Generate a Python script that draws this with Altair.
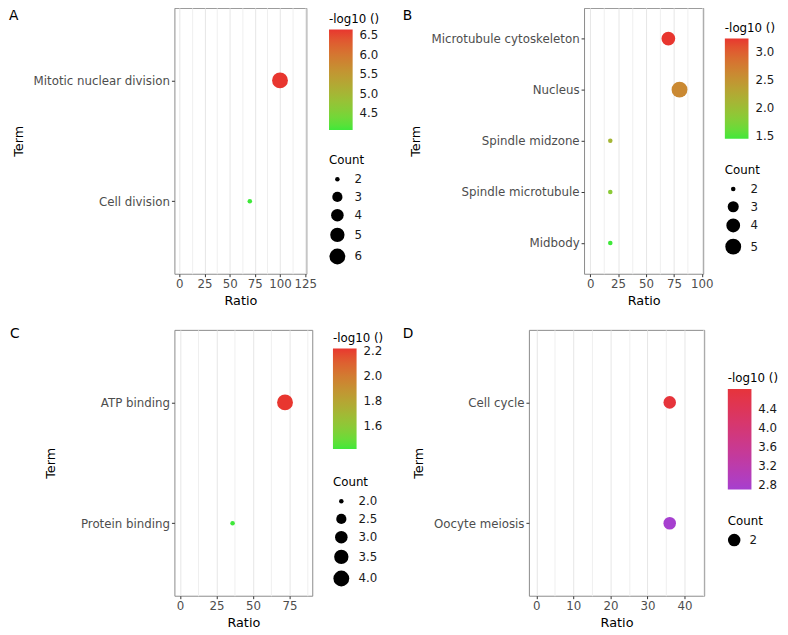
import math
import altair as alt
import pandas as pd

FONT = "DejaVu Sans"

# ---------------- data ----------------
panel_letters = ["A", "B", "C", "D"]

a_term = ["Mitotic nuclear division", "Cell division"]
a_ratio = [100, 70]
a_count = [6, 2]
a_logp = [6.65, 4.07]

b_term = ["Microtubule cytoskeleton", "Nucleus", "Spindle midzone", "Spindle microtubule", "Midbody"]
b_ratio = [70, 80, 18, 18, 18]
b_count = [4, 5, 2, 2, 2]
b_logp = [3.25, 2.62, 2.1, 1.85, 1.45]

c_term = ["ATP binding", "Protein binding"]
c_ratio = [72, 36]
c_count = [4, 2]
c_logp = [2.216, 1.42]

d_term = ["Cell cycle", "Oocyte meiosis"]
d_ratio = [36, 36]
d_count = [2, 2]
d_logp = [4.81, 2.72]

# legend labels
a_color_labels = [4.5, 5.0, 5.5, 6.0, 6.5]
b_color_labels = [1.5, 2.0, 2.5, 3.0]
c_color_labels = [1.6, 1.8, 2.0, 2.2]
d_color_labels = [2.8, 3.2, 3.6, 4.0, 4.4]
a_count_labels = [2, 3, 4, 5, 6]
b_count_labels = [2, 3, 4, 5]
c_count_labels = [2.0, 2.5, 3.0, 3.5, 4.0]
d_count_labels = [2]

GREEN_RED = ["#3fe83a", "#e8362f"]
PURPLE_RED = ["#a63fcf", "#e6343b"]


def size_range(values, vmin, vmax):
    out = []
    for v in values:
        t = 0.5 if vmax == vmin else (v - vmin) / (vmax - vmin)
        d = 2.3 * (2 + 5 * math.sqrt(t))
        out.append(d * d)
    return out


def panel(terms, ratio, count, logp, xdom, major, minor, width,
          crange, clabels, slabels, letter, ldx, ldy,
          cx, cy, sx, sy, term_pad=8):
    df = pd.DataFrame({"Term": terms, "Ratio": ratio, "Count": count, "logp": logp})
    vals = []
    v = 0.0
    while v <= xdom[1] + 1e-9:
        vals.append(v)
        v += minor
    major_test = f"abs(datum.value % {major}) < 1e-6"
    cmin, cmax = min(count), max(count)
    if cmin == cmax:
        sdom = [cmin - 1, cmin + 1]
        srng = size_range([cmin], cmin, cmax) * 2
    else:
        sdom = slabels
        srng = size_range(slabels, cmin, cmax)
    points = alt.Chart(df).mark_circle(opacity=1).encode(
        x=alt.X("Ratio:Q",
                scale=alt.Scale(domain=xdom, nice=False, zero=False),
                axis=alt.Axis(title="Ratio", values=vals,
                              labelExpr=f"{major_test} ? datum.label : ''",
                              tickOpacity={"condition": {"test": major_test, "value": 1}, "value": 0},
                              gridColor={"condition": {"test": major_test, "value": "#e6e6e6"}, "value": "#efefef"},
                              labelFlush=False, titlePadding=5)),
        y=alt.Y("Term:N", sort=terms,
                scale=alt.Scale(type="point", padding=0.6),
                axis=alt.Axis(title="Term", titlePadding=term_pad)),
        color=alt.Color("logp:Q",
                        scale=alt.Scale(domain=[min(logp), max(logp)], range=crange, interpolate="lab"),
                        legend=alt.Legend(title="-log10 ()", orient="none", direction="vertical",
                                          legendX=cx, legendY=cy, values=clabels,
                                          gradientLength=102, gradientThickness=24,
                                          gradientStrokeWidth=0, labelOffset=7,
                                          format=".1f", titlePadding=4)),
        size=alt.Size("Count:Q",
                      scale=alt.Scale(domain=sdom, range=srng),
                      legend=alt.Legend(title="Count", orient="none", direction="vertical",
                                        legendX=sx, legendY=sy, values=slabels,
                                        symbolFillColor="black", symbolStrokeWidth=0,
                                        symbolOpacity=1, symbolType="circle",
                                        labelOffset=9, rowPadding=6, titlePadding=6,
                                        format=".1f" if any(x % 1 for x in slabels) else "d")),
    )
    tag = alt.Chart(pd.DataFrame({"label": [letter]})).mark_text(
        align="left", baseline="top", fontSize=14, font=FONT, color="black"
    ).encode(x=alt.value(ldx), y=alt.value(ldy), text="label:N")
    return alt.layer(points, tag).properties(width=width, height=270)


pa = panel(a_term, a_ratio, a_count, a_logp, [-4.9, 126.2], 25, 12.5, 134,
           GREEN_RED, a_color_labels, a_count_labels, panel_letters[0], -168, 1, 157, 6, 157, 150)
pb = panel(b_term, b_ratio, b_count, b_logp, [-5.5, 101.2], 25, 12.5, 121,
           GREEN_RED, b_color_labels, b_count_labels, panel_letters[1], -184, 1, 143, 15, 143, 160)
pc = panel(c_term, c_ratio, c_count, c_logp, [-3.9, 90.7], 25, 12.5, 140,
           GREEN_RED, c_color_labels, c_count_labels, panel_letters[2], -167, -3, 161, 3, 161, 150,
           term_pad=23)
pd_ = panel(d_term, d_ratio, d_count, d_logp, [-2.0, 45.3], 10, 5, 178,
            PURPLE_RED, d_color_labels, d_count_labels, panel_letters[3], -128, -3, 202, 44, 202, 189)

chart = alt.concat(
    pa, pb, pc, pd_, columns=2, align="none", bounds="full",
    spacing={"row": 18, "column": 17},
).resolve_scale(
    color="independent", size="independent"
).resolve_legend(
    color="independent", size="independent"
).properties(
    padding={"top": -6, "left": 0, "right": 0, "bottom": 0}
).configure(
    font=FONT
).configure_view(
    stroke="#8a8a8a", strokeWidth=1
).configure_axis(
    labelFont=FONT, labelFontSize=12, labelColor="#4d4d4d", labelPadding=2,
    titleFont=FONT, titleFontSize=13, titleFontWeight="normal", titleColor="black",
    tickColor="#333333", tickSize=3, domain=False, gridColor="#e6e6e6",
).configure_legend(
    titleFont=FONT, titleFontSize=12, titleFontWeight="normal", titleColor="black",
    labelFont=FONT, labelFontSize=12, labelColor="#1a1a1a",
)

chart.save("out.html", embed_options={"renderer": "svg", "actions": False})
